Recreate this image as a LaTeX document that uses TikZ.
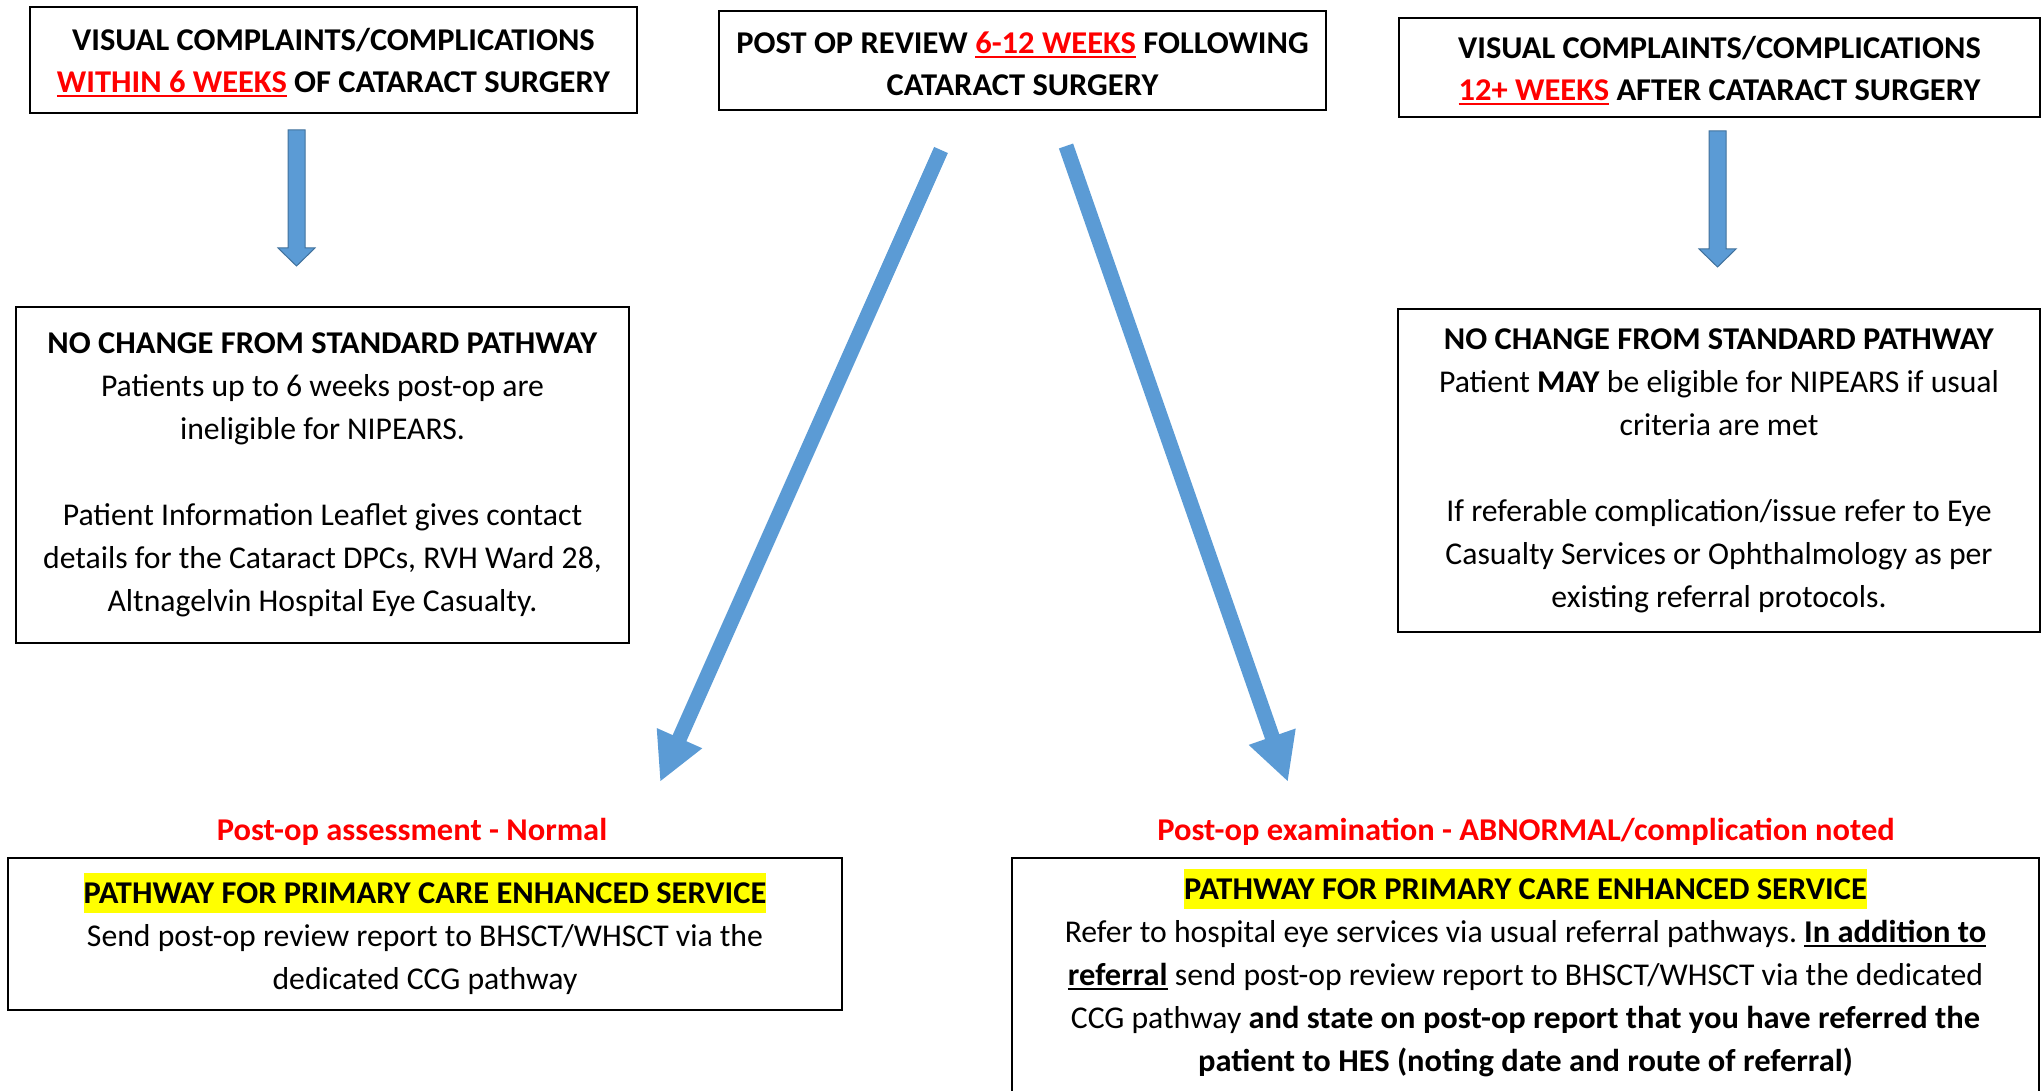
\documentclass[tikz,border=0pt]{standalone}
\usepackage{fontspec}
\setmainfont{Carlito}[BoldFeatures={FakeStretch=1.025}]
\usetikzlibrary{arrows.meta}
\frenchspacing

\definecolor{arrowblue}{HTML}{5B9BD5}
\definecolor{arrowedge}{HTML}{41719C}
\definecolor{hlyellow}{HTML}{FFFF00}

\newsavebox\undlbox
\newcommand{\undl}[1]{\sbox\undlbox{#1}\rlap{\rule[-4.5pt]{\wd\undlbox}{2pt}}\usebox\undlbox}
\newcommand{\hilite}[1]{{\setlength{\fboxsep}{0pt}\colorbox{hlyellow}{\rule[-9pt]{0pt}{40pt}#1}}}

\tikzset{
	box/.style={draw, line width=1.5pt, align=center, inner sep=0pt, font=\fontsize{31.7}{43}\selectfont},
	titlebox/.style={box, font=\fontsize{31.7}{42}\selectfont\bfseries},
	outcome/.style={red, inner sep=0pt, font=\fontsize{31.7}{43}\selectfont\bfseries},
	bigarrow/.style={arrowblue, line width=15pt, -{Triangle[width=46pt,length=48pt]}},
	downarrow/.pic={
		\draw[arrowedge, fill=arrowblue, line width=1pt] (-8.5,0) -- (8.5,0) -- (8.5,118) -- (18.5,118) -- (0,136) -- (-18.5,118) -- (-8.5,118) -- cycle;
	}
}

\begin{document}
\begin{tikzpicture}[x=1pt,y=-1pt]
	\useasboundingbox (0,0) rectangle (2044,1091);
	% top row
	\node[titlebox, minimum width=607pt, minimum height=106pt] (early) at (333.5,60) {\rule{0pt}{28pt}VISUAL COMPLAINTS/COMPLICATIONS\\\textcolor{red}{\undl{WITHIN 6 WEEKS}} OF CATARACT SURGERY};
	\node[titlebox, minimum width=607pt, minimum height=99pt] (review) at (1022.5,60.5) {\rule{0pt}{28pt}POST OP REVIEW \textcolor{red}{\undl{6-12 WEEKS}} FOLLOWING\\CATARACT SURGERY};
	\node[titlebox, minimum width=641pt, minimum height=99pt] (late) at (1719.5,67.5) {\rule{0pt}{28pt}VISUAL COMPLAINTS/COMPLICATIONS\\\textcolor{red}{\undl{12+ WEEKS}} AFTER CATARACT SURGERY};
	% middle row
	\node[box, minimum width=613pt, minimum height=336pt] (earlystd) at (322.5,475) {\textbf{NO CHANGE FROM STANDARD PATHWAY}\\Patients up to 6 weeks post-op are\\ineligible for NIPEARS.\\[43pt]Patient Information Leaflet gives contact\\details for the Cataract DPCs, RVH Ward 28,\\Altnagelvin Hospital Eye Casualty.};
	\node[box, minimum width=642pt, minimum height=323pt] (latestd) at (1719,470.5) {\textbf{NO CHANGE FROM STANDARD PATHWAY}\\Patient \textbf{MAY} be eligible for NIPEARS if usual\\criteria are met\\[43pt]If referable complication/issue refer to Eye\\Casualty Services or Ophthalmology as per\\existing referral protocols.};
	\pic at (296.5,130) {downarrow};
	\pic at (1717.5,131) {downarrow};
	% outcomes
	\node[outcome] (normal) at (412,832) {Post-op assessment - Normal};
	\node[outcome] (abnormal) at (1526,832) {Post-op examination - ABNORMAL/complication noted};
	\node[box, minimum width=834pt, minimum height=152pt] (normalpath) at (425,934) {\hilite{\textbf{PATHWAY FOR PRIMARY CARE ENHANCED SERVICE}}\\Send post-op review report to BHSCT/WHSCT via the\\dedicated CCG pathway};
	\node[box, minimum width=1027pt, minimum height=244pt] (abnormalpath) at (1525.5,980) {\hilite{\textbf{PATHWAY FOR PRIMARY CARE ENHANCED SERVICE}}\\Refer to hospital eye services via usual referral pathways. \textbf{\undl{In addition to}}\\\textbf{\undl{referral}} send post-op review report to BHSCT/WHSCT via the dedicated\\CCG pathway \textbf{and state on post-op report that you have referred the}\\\textbf{patient to HES (noting date and route of referral)}\rule[-20pt]{0pt}{1pt}};
	% review arrows
	\coordinate (revL) at (941,150);
	\coordinate (revR) at (1066,146);
	\coordinate (tipL) at (660,782);
	\coordinate (tipR) at (1288,782);
	\draw[bigarrow] (revL) -- (tipL);
	\draw[bigarrow] (revR) -- (tipR);
\end{tikzpicture}
\end{document}
